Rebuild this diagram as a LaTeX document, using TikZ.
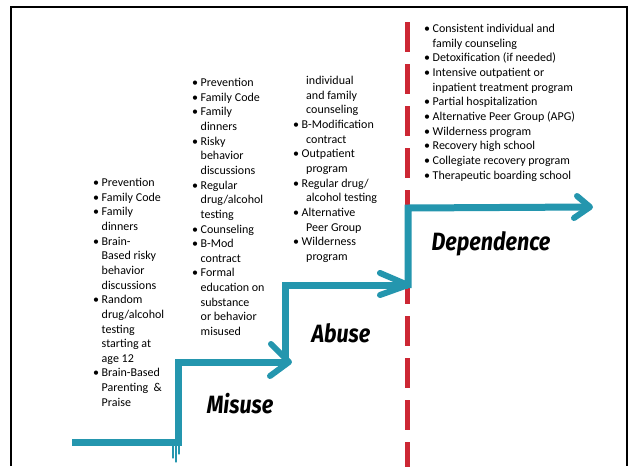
\documentclass[tikz,border=0pt]{standalone}
\usepackage{fontspec}
\setmainfont{Carlito}
\newfontfamily\stagefont{Fira Sans}
\definecolor{pathteal}{RGB}{36,150,174}
\definecolor{lineRed}{RGB}{204,39,52}
% bullet with a fixed gap, and continuation lines
\newcommand{\bul}{\makebox[8.5pt][l]{\textbullet}}
\newcommand{\cnt}{\hspace*{8.5pt}}
\newcommand{\cntx}{\hspace*{13pt}}
% condensed stage names
\newcommand{\stagename}[1]{\scalebox{0.86}[1]{#1}}
\tikzset{
  stair/.style={draw=pathteal, line width=7pt, line join=miter},
  barb/.style={draw=pathteal, line width=6pt, line cap=round, line join=round},
  drip/.style={draw=pathteal, line width=1.2pt, line cap=round},
  boundary/.style={draw=lineRed, line width=5pt, dash pattern=on 30pt off 12pt},
  framing/.style={draw=black, line width=2pt},
  listtext/.style={anchor=north west, inner sep=0pt, align=left,
    font=\fontsize{12}{14.65}\selectfont},
  stagelabel/.style={inner sep=0pt,
    font=\stagefont\bfseries\itshape\fontsize{25}{25}\selectfont}
}
\begin{document}
\begin{tikzpicture}[x=1pt,y=-1pt]
\useasboundingbox (0,0) rectangle (629,466);
\fill[white] (0,0) rectangle (629,466);

% outer frame (open at the bottom)
\coordinate (fbl) at (11,466);
\coordinate (ftl) at (11,7);
\coordinate (ftr) at (627,7);
\coordinate (fbr) at (627,466);
\draw[framing] (fbl) -- (ftl) -- (ftr) -- (fbr);

% red boundary before dependence
\coordinate (rtop) at (407,22);
\coordinate (rbot) at (407,470);
\draw[boundary] (rtop) -- (rbot);

% staircase
\coordinate (s0) at (72,442);
\coordinate (s1) at (178,442);
\coordinate (s2) at (178,362);
\coordinate (t1) at (289,362);
\coordinate (s3) at (285,366);
\coordinate (s4) at (285,285);
\coordinate (t2) at (408,285);
\coordinate (s5) at (408,288);
\coordinate (s6) at (408,208);
\coordinate (t3) at (590,207);

\draw[stair] (s0) -- (s1) -- (s2) -- (t1);
\draw[barb] (t1) ++(-18,-18) -- (t1) -- ++(-19,14);
\draw[stair] (s3) -- (s4) -- (t2);
\draw[barb] (t2) ++(-28,-12) -- (t2) -- ++(-28,10);
\draw[stair] (s5) -- (s6) -- (t3);
\draw[barb] (t3) ++(-13,-11) -- (t3) -- ++(-16,11);

% paint drips under the first corner
\draw[drip] (s1) ++(-5,2) -- ++(0,14);
\draw[drip] (s1) ++(-2,2) -- ++(0,18);
\draw[drip] (s1) ++(1,2) -- ++(0,10);

% stage labels
\node[stagelabel] (misuse) at (240,404) {\stagename{Misuse}};
\node[stagelabel] (abuse) at (341,333) {\stagename{Abuse}};
\node[stagelabel] (dependence) at (491,244) {\stagename{Dependence}};

% intervention lists
\node[listtext] (listA) at (93,178) {%
\bul Prevention\\
\bul Family Code\\
\bul Family\\
\cnt dinners\\
\bul Brain-\\
\cnt Based risky\\
\cnt behavior\\
\cnt discussions\\
\bul Random\\
\cnt drug/alcohol\\
\cnt testing\\
\cnt starting at\\
\cnt age 12\\
\bul Brain-Based\\
\cnt Parenting \ \&\\
\cnt Praise};

\node[listtext] (listB) at (192,78) {%
\bul Prevention\\
\bul Family Code\\
\bul Family\\
\cnt dinners\\
\bul Risky\\
\cnt behavior\\
\cnt discussions\\
\bul Regular\\
\cnt drug/alcohol\\
\cnt testing\\
\bul Counseling\\
\bul B-Mod\\
\cnt contract\\
\bul Formal\\
\cnt education on\\
\cnt substance\\
\cnt or behavior\\
\cnt misused};

\node[listtext] (listC) at (293,76) {%
\cntx individual\\
\cntx and family\\
\cntx counseling\\
\bul B-Modification\\
\cntx contract\\
\bul Outpatient\\
\cntx program\\
\bul Regular drug/\\
\cntx alcohol testing\\
\bul Alternative\\
\cntx Peer Group\\
\bul Wilderness\\
\cntx program};

\node[listtext] (listD) at (424,24) {%
\bul Consistent individual and\\
\cnt family counseling\\
\bul Detoxification (if needed)\\
\bul Intensive outpatient or\\
\cnt inpatient treatment program\\
\bul Partial hospitalization\\
\bul Alternative Peer Group (APG)\\
\bul Wilderness program\\
\bul Recovery high school\\
\bul Collegiate recovery program\\
\bul Therapeutic boarding school};
\end{tikzpicture}
\end{document}
